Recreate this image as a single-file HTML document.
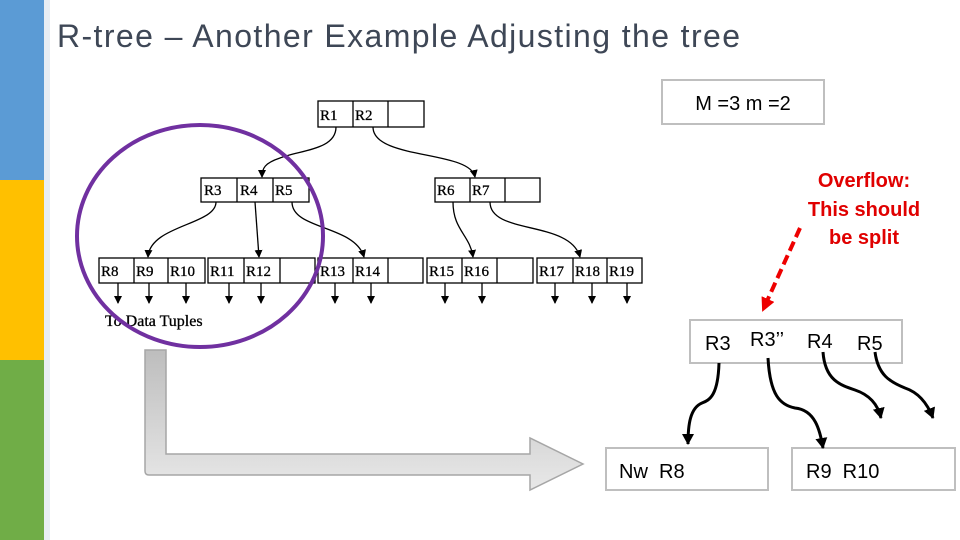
<!DOCTYPE html>
<html><head><meta charset="utf-8"><style>
html,body{margin:0;padding:0;background:#fff}
svg{display:block}
text{font-family:"Liberation Sans",sans-serif}
.s text{font-family:"Liberation Serif",serif;font-size:15px;stroke:#000;stroke-width:0.3}
</style></head><body>
<svg width="960" height="540" viewBox="0 0 960 540" xmlns="http://www.w3.org/2000/svg">
<defs>
<linearGradient id="ag" x1="0" y1="0" x2="0" y2="1"><stop offset="0" stop-color="#bdbdbd"/><stop offset="1" stop-color="#e8e8e8"/></linearGradient>
<marker id="ah" markerWidth="9" markerHeight="9" refX="7" refY="4" orient="auto" markerUnits="userSpaceOnUse"><path d="M0,0 L8,4 L0,8Z" fill="#000"/></marker>
<marker id="sa" markerWidth="13" markerHeight="13" refX="10" refY="6" orient="auto" markerUnits="userSpaceOnUse"><path d="M0,0 L11,6 L0,12Z" fill="#000"/></marker>
<marker id="ra" markerWidth="16" markerHeight="16" refX="12" refY="7" orient="auto" markerUnits="userSpaceOnUse"><path d="M0,0 L14,7 L0,14Z" fill="#e00"/></marker>
</defs>
<rect x="0" y="0" width="44" height="180" fill="#5b9bd5"/>
<rect x="0" y="180" width="44" height="180" fill="#ffc000"/>
<rect x="0" y="360" width="44" height="180" fill="#70ad47"/>
<rect x="44" y="0" width="6" height="540" fill="#e8eef4"/>
<text x="57" y="47" font-size="32" fill="#3e4756" textLength="683" lengthAdjust="spacing">R-tree – Another Example Adjusting the tree</text>

<g stroke="#000" stroke-width="1.3" fill="#fff">
<rect x="318" y="101" width="106" height="26"/><line x1="353" y1="101" x2="353" y2="127"/><line x1="388" y1="101" x2="388" y2="127"/>
<rect x="201" y="178" width="108" height="24"/><line x1="237" y1="178" x2="237" y2="202"/><line x1="273" y1="178" x2="273" y2="202"/>
<rect x="435" y="178" width="105" height="24"/><line x1="470" y1="178" x2="470" y2="202"/><line x1="505" y1="178" x2="505" y2="202"/>
<rect x="99" y="258" width="106" height="25"/><line x1="134" y1="258" x2="134" y2="283"/><line x1="168" y1="258" x2="168" y2="283"/>
<rect x="208" y="258" width="107" height="25"/><line x1="244" y1="258" x2="244" y2="283"/><line x1="280" y1="258" x2="280" y2="283"/>
<rect x="318" y="258" width="105" height="25"/><line x1="353" y1="258" x2="353" y2="283"/><line x1="388" y1="258" x2="388" y2="283"/>
<rect x="427" y="258" width="106" height="25"/><line x1="462" y1="258" x2="462" y2="283"/><line x1="497" y1="258" x2="497" y2="283"/>
<rect x="537" y="258" width="105" height="25"/><line x1="573" y1="258" x2="573" y2="283"/><line x1="607" y1="258" x2="607" y2="283"/>
</g>
<g class="s" fill="#000">
<text x="320" y="120">R1</text><text x="355" y="120">R2</text>
<text x="204" y="195">R3</text><text x="240" y="195">R4</text><text x="275" y="195">R5</text>
<text x="437" y="195">R6</text><text x="472" y="195">R7</text>
<text x="101" y="276">R8</text><text x="136" y="276">R9</text><text x="170" y="276">R10</text>
<text x="210" y="276">R11</text><text x="246" y="276">R12</text>
<text x="320" y="276">R13</text><text x="355" y="276">R14</text>
<text x="429" y="276">R15</text><text x="464" y="276">R16</text>
<text x="539" y="276">R17</text><text x="575" y="276">R18</text><text x="609" y="276">R19</text>
<text x="105" y="326" style="font-size:16px">To Data Tuples</text>
</g>
<g stroke="#000" stroke-width="1.3" fill="none" marker-end="url(#ah)">
<path d="M336,127 C336,150 300,150 280,158 C265,163 262,168 262,177"/>
<path d="M373,127 C373,160 470,150 475,177"/>
<path d="M216,202 C216,225 150,225 148,257"/>
<path d="M255,202 L259,257"/>
<path d="M292,202 C292,230 355,225 364,257"/>
<path d="M453,202 C453,230 470,235 473,257"/>
<path d="M490,202 C490,235 570,220 580,257"/>
<path d="M118,283 V303"/><path d="M149,283 V303"/><path d="M186,283 V303"/>
<path d="M229,283 V303"/><path d="M261,283 V303"/>
<path d="M335,283 V303"/><path d="M371,283 V303"/>
<path d="M445,283 V303"/><path d="M482,283 V303"/>
<path d="M555,283 V303"/><path d="M592,283 V303"/><path d="M627,283 V303"/>
</g>
<ellipse cx="200" cy="236" rx="123" ry="111" fill="none" stroke="#7030a0" stroke-width="4"/>

<path d="M145,350 H166 V454 H530 V438 L583,464 L530,490 V475 H149 Q145,475 145,471 Z" fill="url(#ag)" stroke="#a6a6a6" stroke-width="1.5"/>

<rect x="662" y="80" width="162" height="44" fill="#fff" stroke="#bfbfbf" stroke-width="2"/>
<text x="743" y="110" font-size="20" text-anchor="middle" fill="#000">M =3 m =2</text>
<g font-size="20" font-weight="bold" fill="#e00000" text-anchor="middle">
<text x="864" y="187">Overflow:</text><text x="864" y="216">This should</text><text x="864" y="244">be split</text>
</g>
<path d="M800,228 L763,310" stroke="#e00" stroke-width="4" stroke-dasharray="10,5" fill="none" marker-end="url(#ra)"/>
<rect x="690" y="320" width="212" height="43" fill="#fff" stroke="#bfbfbf" stroke-width="2"/>
<g font-size="20" fill="#000">
<text x="705" y="350">R3</text><text x="750" y="346">R3’’</text><text x="807" y="348">R4</text><text x="857" y="350">R5</text>
</g>
<rect x="606" y="448" width="162" height="42" fill="#fff" stroke="#bfbfbf" stroke-width="2"/>
<rect x="792" y="448" width="163" height="42" fill="#fff" stroke="#bfbfbf" stroke-width="2"/>
<g font-size="20" fill="#000"><text x="619" y="478">Nw &#160;R8</text><text x="806" y="478">R9 &#160;R10</text></g>
<g stroke="#000" stroke-width="3" fill="none" marker-end="url(#sa)">
<path d="M719,363 C718,395 710,400 702,403 C690,408 688,425 688,444"/>
<path d="M768,358 C770,395 780,405 795,408 C815,410 820,430 823,448"/>
<path d="M823,352 C825,380 840,385 855,390 C870,395 878,405 881,418"/>
<path d="M875,352 C878,375 890,382 905,388 C920,393 928,405 933,418"/>
</g>
</svg>
</body></html>
